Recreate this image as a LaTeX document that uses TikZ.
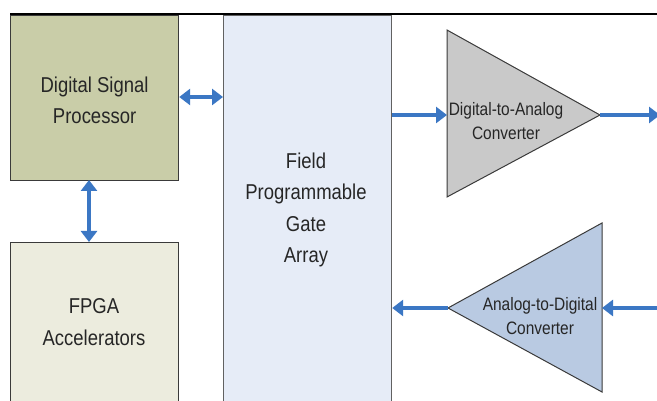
\documentclass[tikz,border=0pt]{standalone}
\usepackage{fontspec}
\setmainfont[FakeStretch=0.86]{Liberation Sans}
\usetikzlibrary{arrows.meta}
\definecolor{dspfill}{HTML}{C9CDA8}
\definecolor{accfill}{HTML}{ECECDE}
\definecolor{fpgafill}{HTML}{E6ECF7}
\definecolor{dacfill}{HTML}{C9C9C9}
\definecolor{adcfill}{HTML}{B9CAE2}
\definecolor{linkblue}{HTML}{3B77C4}
\definecolor{edge}{HTML}{3A3A3A}
\tikzset{
  block/.style={draw=edge, line width=1.2pt, inner sep=0pt, anchor=north west},
  label/.style={align=center, font=\fontsize{21.5}{31.5}\selectfont, text=black!85},
  small/.style={align=center, font=\fontsize{18}{24.5}\selectfont, text=black!85},
  link/.style={draw=linkblue, line width=3.8pt,
    -{Triangle[length=11pt,width=16pt]}},
  dlink/.style={draw=linkblue, line width=3.8pt,
    {Triangle[length=11pt,width=16pt]}-{Triangle[length=11pt,width=16pt]}},
  conv/.style={draw=edge, line width=1pt, line join=miter}
}
\begin{document}
\begin{tikzpicture}[x=1pt, y=-1pt]
\useasboundingbox (0,0) rectangle (657,401);
\clip (0,0) rectangle (657,401);
\fill[white] (0,0) rectangle (657,401);

% blocks on the left and the FPGA column
\node[block, fill=dspfill, minimum width=168pt, minimum height=165pt] (dsp) at (10,15) {};
\node[label] at (dsp.center) [yshift=-2pt] {Digital Signal\\Processor};
\node[block, fill=accfill, minimum width=168pt, minimum height=170pt] (acc) at (10,242) {};
\node[label] at (94,322) {FPGA\\Accelerators};
\node[block, fill=fpgafill, draw=edge!80, minimum width=168pt, minimum height=400pt] (fpga) at (223,15) {};
\node[label] at (306,210) {Field\\Programmable\\Gate\\Array};

% top rule
\draw[black, line width=2pt] (10,14.5) -- (657,14.5);

% digital-to-analog converter
\coordinate (dacin) at (447,115);
\coordinate (dacout) at (600,115);
\filldraw[conv, fill=dacfill] (447,30) -- (dacout) -- (447,197) -- cycle;
\node[small] (dac) at (506,121) {Digital-to-Analog\\Converter};

% analog-to-digital converter
\coordinate (adcin) at (602,308);
\coordinate (adcout) at (448,308);
\filldraw[conv, fill=adcfill] (602,223) -- (adcout) -- (602,392) -- cycle;
\node[small] (adc) at (540,316) {Analog-to-Digital\\Converter};

% free ends at the right margin
\coordinate (aout) at (660,115);
\coordinate (ain) at (660,308);

% connections
\draw[dlink] (dsp.east |- 0,97) -- (fpga.west |- 0,97);
\draw[dlink] (89,180) -- (89,242);
\draw[link] (fpga.east |- dacin) -- (dacin);
\draw[link] (dacout) -- (aout);
\draw[link] (ain) -- (adcin);
\draw[link] (adcout) -- (fpga.east |- adcout);
\end{tikzpicture}
\end{document}
